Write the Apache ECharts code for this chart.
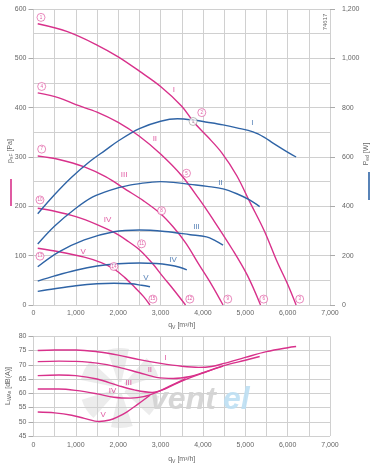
<!DOCTYPE html>
<html><head><meta charset="utf-8">
<script src="https://cdn.jsdelivr.net/npm/echarts@6/dist/echarts.min.js"></script>
<style>html,body{margin:0;padding:0;background:#fff}#c{width:388px;height:466px}</style>
</head><body><div id="c"></div>
<script>
// ---- data: flow q_V [m³/h] vs static pressure [Pa]
const pressureI   = [[100,570],[800,554],[1500,527],[2000,503],[2500,474],[3000,443],[3500,403],[3770,372],[4100,342],[4450,308],[4800,262],[5100,210],[5450,150],[5750,88],[6000,42],[6200,0]];
const pressureII  = [[100,430],[600,420],[1000,406],[1500,391],[2000,370],[2500,342],[3000,306],[3500,262],[3900,216],[4250,172],[4700,112],[5050,60],[5360,0]];
const pressureIII = [[100,302],[600,295],[1200,280],[1700,260],[2200,233],[2600,211],[3000,185],[3300,158],[3600,125],[3900,83],[4200,42],[4475,0]];
const pressureIV  = [[100,196],[500,190],[1000,179],[1500,163],[1900,147],[2200,131],[2500,112],[2800,85],[3050,58],[3300,32],[3590,0]];
const pressureV   = [[100,115],[600,108],[1200,97],[1600,86],[1900,73],[2150,56],[2400,35],[2600,17],[2750,0]];
// ---- power input [W]
const powerI   = [[100,370],[500,448],[900,518],[1300,578],[1700,628],[2000,665],[2500,715],[3000,745],[3400,755],[3770,750],[4100,741],[4475,730],[4800,718],[5183,702],[5450,680],[5655,656],[5900,630],[6200,600]];
const powerII  = [[100,247],[500,320],[1000,392],[1400,438],[1800,465],[2300,487],[2800,498],[3000,500],[3300,497],[3700,489],[4100,481],[4475,471],[4800,451],[5100,426],[5340,399]];
const powerIII = [[100,155],[600,215],[1200,264],[1900,297],[2500,304],[3100,298],[3700,285],[4084,276],[4300,260],[4475,243]];
const powerIV  = [[100,97],[500,118],[1000,141],[1500,158],[2000,167],[2500,170],[2900,168],[3200,162],[3450,153],[3620,142]];
const powerV   = [[100,55],[500,66],[1000,78],[1500,86],[1900,88],[2300,86],[2550,80],[2750,74]];
// ---- sound power level [dB(A)]
const noiseI   = [[100,75],[500,75.2],[1000,75.2],[1500,74.6],[2000,73.4],[2500,71.8],[3000,70.5],[3500,69.5],[3900,69.1],[4200,69.4],[4500,70.5],[5000,72.6],[5500,74.6],[6000,76],[6200,76.4]];
const noiseII  = [[100,71.1],[600,71.3],[1000,71.2],[1500,70.6],[2000,69.2],[2500,67.2],[2900,65.6],[3300,65.2],[3700,65.9],[4000,67.2],[4475,69.6],[5000,71.6],[5340,72.9]];
const noiseIII = [[100,66.2],[600,66.4],[1000,66.2],[1500,65],[2000,62.7],[2400,61.1],[2800,60.3],[3100,61.5],[3500,64.3],[4000,67.1],[4475,69.5]];
const noiseIV  = [[100,61.5],[600,61.5],[1000,61],[1500,59.8],[1900,58.6],[2300,58.3],[2600,58.8],[2900,60.3],[3200,62.4],[3590,65.1]];
const noiseV   = [[100,53.4],[500,53.1],[900,52.3],[1200,51.2],[1550,50.1],[1800,50.6],[2000,51.8],[2200,53.4],[2450,56],[2750,59.3]];
// ---- labels (value coordinates)
const pressureLabels = [[3313,437,'I'],[2865,336,'II'],[2141,264,'III'],[1750,172,'IV'],[1174,107,'V']];
const powerLabels    = [[5168,737,'I'],[4414,497,'II'],[3848,318,'III'],[3297,185,'IV'],[2653,112,'V']];
const noiseLabels    = [[3117,72.6,'I'],[2747,68.2,'II'],[2245,63.7,'III'],[1868,60.9,'IV'],[1646,52.6,'V']];
const pointMarks = [[177,583,'1'],[3973,390,'2'],[6284,12,'3'],[193,443,'4'],[3612,267,'5'],[5435,12,'6'],[193,316,'7'],[3023,191,'8'],[4586,12,'9'],[153,213,'10'],[2551,124,'11'],[3690,12,'12'],[153,99,'13'],[1898,78,'14'],[2818,12,'15']];
const operatingPoint = [[3768,372,'1']];
// ---- axes
const flowMin = 0, flowMax = 7000, flowStep = 1000;
const pressMin = 0, pressMax = 600, pressStep = 100;
const powMin = 0, powMax = 1200, powStep = 200;
const dbMin = 45, dbMax = 80, dbStep = 5;

const PINK = '#d8318b', BLUE = '#2f64a6', GRID = '#d0d0d0', TXT = '#666', FONT = 'Liberation Sans, Arial, sans-serif';
const fmt = v => Number(v).toLocaleString('en-US');

const chart = echarts.init(document.getElementById('c'));

function xAx(gi, gap, margin) {
  return {
    gridIndex: gi, type: 'value', min: flowMin, max: flowMax, interval: flowStep,
    axisLine: {show: false}, axisTick: {show: false},
    axisLabel: {fontSize: 7, color: TXT, fontFamily: FONT, margin: margin, formatter: fmt},
    splitLine: {show: true, lineStyle: {color: GRID, width: 1}},
    minorTick: {show: false, splitNumber: 2},
    minorSplitLine: {show: true, lineStyle: {color: GRID, width: 1}},
    name: '{a|q}{b|V} [m³/h]', nameLocation: 'middle', nameGap: gap,
    nameTextStyle: {fontSize: 7, color: TXT, fontFamily: FONT,
      rich: {a: {fontSize: 7, color: TXT, fontFamily: FONT}, b: {fontSize: 5, color: TXT, fontFamily: FONT, padding: [4, 0, 0, 0]}}}
  };
}
function yAx(gi, min, max, step, pos, split, minor, margin) {
  return {
    gridIndex: gi, type: 'value', min: min, max: max, interval: step, position: pos,
    axisLine: {show: false},
    axisTick: {show: true, length: 5, lineStyle: {color: '#aaa'}},
    axisLabel: {fontSize: 7, color: TXT, fontFamily: FONT, margin: margin, formatter: fmt},
    splitLine: {show: split, lineStyle: {color: GRID, width: 1}},
    minorTick: {show: false, splitNumber: 2},
    minorSplitLine: {show: minor, lineStyle: {color: GRID, width: 1}}
  };
}
function curve(data, xi, yi, color) {
  return {type: 'line', xAxisIndex: xi, yAxisIndex: yi, data: data, smooth: 0.35, showSymbol: false, symbol: 'none',
    lineStyle: {color: color, width: 1.4}, silent: true, z: 4, animation: false};
}
function labels(data, xi, yi, color) {
  return {type: 'scatter', xAxisIndex: xi, yAxisIndex: yi, data: data, symbolSize: 1, itemStyle: {color: 'rgba(0,0,0,0)'},
    label: {show: true, position: 'inside', formatter: p => p.data[2], color: color, fontSize: 8, fontFamily: FONT},
    silent: true, z: 6, animation: false};
}
function marks(data, color) {
  return {type: 'scatter', xAxisIndex: 0, yAxisIndex: 0, data: data, symbol: 'circle', symbolSize: 8,
    itemStyle: {color: '#fff', borderColor: color, borderWidth: 0.7},
    label: {show: true, position: 'inside', formatter: p => p.data[2], color: color, fontSize: 4.5, fontFamily: FONT},
    silent: true, z: 7, animation: false};
}

const blades = [];
for (let i = 0; i < 6; i++) {
  const a0 = i * Math.PI / 3 + 0.2;
  blades.push({type: 'sector', z: 0, silent: true,
    shape: {cx: 120, cy: 388, r0: 6, r: 40, startAngle: a0, endAngle: a0 + 0.55},
    style: {fill: '#e9e9e9', opacity: 0.85}});
}

chart.setOption({
  animation: false,
  backgroundColor: '#fff',
  grid: [
    {left: 33.5, top: 9, width: 296.5, height: 296},
    {left: 33.5, top: 336.3, width: 296.5, height: 99.7}
  ],
  xAxis: [xAx(0, 16, 5), xAx(1, 19, 6)],
  yAxis: [
    yAx(0, pressMin, pressMax, pressStep, 'left', true, true, 7),
    yAx(0, powMin, powMax, powStep, 'right', false, false, 12),
    yAx(1, dbMin, dbMax, dbStep, 'left', true, false, 7)
  ],
  graphic: blades.concat([
    {type: 'text', z: 1, silent: true, x: 150, y: 384,
      style: {text: 'vent', font: 'italic bold 32px Liberation Sans', fill: '#d2d2d2', textBaseline: 'alphabetic', opacity: 0.9}},
    {type: 'text', z: 1, silent: true, x: 223, y: 384,
      style: {text: 'el', font: 'italic bold 32px Liberation Sans', fill: '#bcdff3', textBaseline: 'alphabetic', opacity: 0.9}},
    {type: 'text', silent: true, x: 10, y: 151, rotation: Math.PI / 2,
      style: {text: '{a|p}{b|sF}{a| [Pa]}', align: 'center', verticalAlign: 'middle',
        rich: {a: {fontSize: 7, fill: TXT, fontFamily: FONT}, b: {fontSize: 5, fill: TXT, fontFamily: FONT, padding: [4, 0, 0, 0]}}}},
    {type: 'line', silent: true, shape: {x1: 11, y1: 179, x2: 11, y2: 206}, style: {stroke: PINK, lineWidth: 1.6}},
    {type: 'text', silent: true, x: 366, y: 154, rotation: Math.PI / 2,
      style: {text: '{a|P}{b|ed}{a| [W]}', align: 'center', verticalAlign: 'middle',
        rich: {a: {fontSize: 7, fill: TXT, fontFamily: FONT}, b: {fontSize: 5, fill: TXT, fontFamily: FONT, padding: [4, 0, 0, 0]}}}},
    {type: 'line', silent: true, shape: {x1: 369, y1: 172, x2: 369, y2: 200}, style: {stroke: BLUE, lineWidth: 1.6}},
    {type: 'text', silent: true, x: 8, y: 386, rotation: Math.PI / 2,
      style: {text: '{a|L}{b|WAs}{a| [dB(A)]}', align: 'center', verticalAlign: 'middle',
        rich: {a: {fontSize: 7, fill: TXT, fontFamily: FONT}, b: {fontSize: 5, fill: TXT, fontFamily: FONT, padding: [4, 0, 0, 0]}}}},
    {type: 'text', silent: true, x: 325, y: 22, rotation: Math.PI / 2,
      style: {text: '74617', align: 'center', verticalAlign: 'middle', fontSize: 6, fill: TXT, fontFamily: FONT}}
  ]),
  series: [
    curve(pressureI, 0, 0, PINK), curve(pressureII, 0, 0, PINK), curve(pressureIII, 0, 0, PINK),
    curve(pressureIV, 0, 0, PINK), curve(pressureV, 0, 0, PINK),
    curve(powerI, 0, 1, BLUE), curve(powerII, 0, 1, BLUE), curve(powerIII, 0, 1, BLUE),
    curve(powerIV, 0, 1, BLUE), curve(powerV, 0, 1, BLUE),
    curve(noiseI, 1, 2, PINK), curve(noiseII, 1, 2, PINK), curve(noiseIII, 1, 2, PINK),
    curve(noiseIV, 1, 2, PINK), curve(noiseV, 1, 2, PINK),
    labels(pressureLabels, 0, 0, PINK), labels(powerLabels, 0, 1, BLUE), labels(noiseLabels, 1, 2, PINK),
    marks(pointMarks, PINK), marks(operatingPoint, '#888')
  ]
});
</script></body></html>
